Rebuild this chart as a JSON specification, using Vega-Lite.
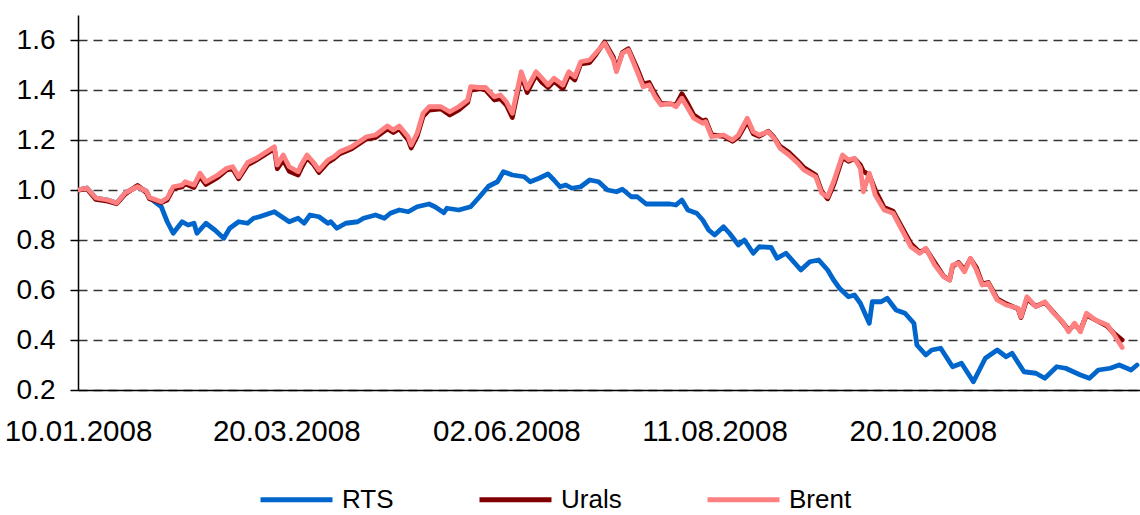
{
"$schema": "https://vega.github.io/schema/vega-lite/v6.json",
"width": 1062, "height": 375,
"autosize": {"type": "none"},
"padding": {"left": 78, "top": 15, "right": 0, "bottom": 125},
"background": "white",
"config": {"view": {"stroke": null}, "font": "Liberation Sans"},
"data": {"values": [
{"d":"2008-01-10","RTS":1.0},{"d":"2008-01-13","RTS":1.008},{"d":"2008-01-16","RTS":0.968},{"d":"2008-01-20","RTS":0.96},{"d":"2008-01-23","RTS":0.948},{"d":"2008-01-26","RTS":0.99},{"d":"2008-01-30","RTS":1.013},{"d":"2008-02-02","RTS":0.995},{"d":"2008-02-03","RTS":0.97},{"d":"2008-02-07","RTS":0.933},{"d":"2008-02-09","RTS":0.873},{"d":"2008-02-11","RTS":0.827},{"d":"2008-02-14","RTS":0.873},{"d":"2008-02-16","RTS":0.86},{"d":"2008-02-18","RTS":0.867},{"d":"2008-02-19","RTS":0.827},{"d":"2008-02-22","RTS":0.867},{"d":"2008-02-25","RTS":0.84},{"d":"2008-02-28","RTS":0.807},{"d":"2008-03-01","RTS":0.847},{"d":"2008-03-04","RTS":0.873},{"d":"2008-03-07","RTS":0.867},{"d":"2008-03-09","RTS":0.887},{"d":"2008-03-11","RTS":0.893},{"d":"2008-03-16","RTS":0.913},{"d":"2008-03-21","RTS":0.873},{"d":"2008-03-24","RTS":0.887},{"d":"2008-03-26","RTS":0.867},{"d":"2008-03-28","RTS":0.9},{"d":"2008-03-31","RTS":0.893},{"d":"2008-04-03","RTS":0.867},{"d":"2008-04-04","RTS":0.873},{"d":"2008-04-06","RTS":0.847},{"d":"2008-04-09","RTS":0.867},{"d":"2008-04-13","RTS":0.873},{"d":"2008-04-15","RTS":0.887},{"d":"2008-04-19","RTS":0.9},{"d":"2008-04-22","RTS":0.887},{"d":"2008-04-24","RTS":0.907},{"d":"2008-04-27","RTS":0.92},{"d":"2008-04-30","RTS":0.913},{"d":"2008-05-03","RTS":0.933},{"d":"2008-05-07","RTS":0.944},{"d":"2008-05-09","RTS":0.933},{"d":"2008-05-12","RTS":0.909},{"d":"2008-05-13","RTS":0.927},{"d":"2008-05-17","RTS":0.92},{"d":"2008-05-21","RTS":0.933},{"d":"2008-05-24","RTS":0.973},{"d":"2008-05-27","RTS":1.015},{"d":"2008-05-30","RTS":1.033},{"d":"2008-06-01","RTS":1.073},{"d":"2008-06-04","RTS":1.06},{"d":"2008-06-08","RTS":1.053},{"d":"2008-06-10","RTS":1.033},{"d":"2008-06-13","RTS":1.047},{"d":"2008-06-16","RTS":1.064},{"d":"2008-06-18","RTS":1.04},{"d":"2008-06-20","RTS":1.013},{"d":"2008-06-22","RTS":1.02},{"d":"2008-06-24","RTS":1.007},{"d":"2008-06-27","RTS":1.013},{"d":"2008-06-30","RTS":1.04},{"d":"2008-07-03","RTS":1.033},{"d":"2008-07-06","RTS":1.0},{"d":"2008-07-09","RTS":0.993},{"d":"2008-07-11","RTS":1.003},{"d":"2008-07-14","RTS":0.973},{"d":"2008-07-16","RTS":0.973},{"d":"2008-07-19","RTS":0.944},{"d":"2008-07-24","RTS":0.944},{"d":"2008-07-27","RTS":0.944},{"d":"2008-07-29","RTS":0.94},{"d":"2008-07-31","RTS":0.96},{"d":"2008-08-02","RTS":0.92},{"d":"2008-08-05","RTS":0.907},{"d":"2008-08-07","RTS":0.88},{"d":"2008-08-09","RTS":0.84},{"d":"2008-08-11","RTS":0.82},{"d":"2008-08-14","RTS":0.853},{"d":"2008-08-16","RTS":0.827},{"d":"2008-08-19","RTS":0.78},{"d":"2008-08-21","RTS":0.8},{"d":"2008-08-24","RTS":0.747},{"d":"2008-08-26","RTS":0.773},{"d":"2008-08-30","RTS":0.77},{"d":"2008-09-01","RTS":0.727},{"d":"2008-09-04","RTS":0.747},{"d":"2008-09-09","RTS":0.68},{"d":"2008-09-12","RTS":0.713},{"d":"2008-09-15","RTS":0.72},{"d":"2008-09-18","RTS":0.68},{"d":"2008-09-20","RTS":0.64},{"d":"2008-09-22","RTS":0.607},{"d":"2008-09-25","RTS":0.573},{"d":"2008-09-27","RTS":0.58},{"d":"2008-09-29","RTS":0.547},{"d":"2008-10-02","RTS":0.467},{"d":"2008-10-03","RTS":0.553},{"d":"2008-10-06","RTS":0.553},{"d":"2008-10-08","RTS":0.567},{"d":"2008-10-11","RTS":0.52},{"d":"2008-10-14","RTS":0.507},{"d":"2008-10-17","RTS":0.467},{"d":"2008-10-18","RTS":0.38},{"d":"2008-10-21","RTS":0.34},{"d":"2008-10-23","RTS":0.36},{"d":"2008-10-26","RTS":0.367},{"d":"2008-10-30","RTS":0.293},{"d":"2008-11-02","RTS":0.307},{"d":"2008-11-06","RTS":0.233},{"d":"2008-11-10","RTS":0.327},{"d":"2008-11-14","RTS":0.36},{"d":"2008-11-17","RTS":0.333},{"d":"2008-11-19","RTS":0.347},{"d":"2008-11-23","RTS":0.273},{"d":"2008-11-27","RTS":0.267},{"d":"2008-11-30","RTS":0.247},{"d":"2008-12-04","RTS":0.293},{"d":"2008-12-07","RTS":0.287},{"d":"2008-12-12","RTS":0.26},{"d":"2008-12-15","RTS":0.247},{"d":"2008-12-18","RTS":0.28},{"d":"2008-12-22","RTS":0.287},{"d":"2008-12-25","RTS":0.3},{"d":"2008-12-29","RTS":0.28},{"d":"2008-12-31","RTS":0.3},
{"d":"2008-01-10","Urals":1.0,"Brent":1.0},{"d":"2008-01-13","Urals":1.005,"Brent":1.008},{"d":"2008-01-16","Urals":0.962,"Brent":0.968},{"d":"2008-01-20","Urals":0.955,"Brent":0.96},{"d":"2008-01-23","Urals":0.945,"Brent":0.948},{"d":"2008-01-26","Urals":0.985,"Brent":0.99},{"d":"2008-01-30","Urals":1.018,"Brent":1.013},{"d":"2008-02-02","Urals":0.99,"Brent":0.995},{"d":"2008-02-03","Urals":0.965,"Brent":0.97},{"d":"2008-02-07","Urals":0.95,"Brent":0.953},{"d":"2008-02-09","Urals":0.96,"Brent":0.968},{"d":"2008-02-11","Urals":1.005,"Brent":1.013},{"d":"2008-02-14","Urals":1.012,"Brent":1.02},{"d":"2008-02-15","Urals":1.025,"Brent":1.033},{"d":"2008-02-18","Urals":1.01,"Brent":1.02},{"d":"2008-02-20","Urals":1.055,"Brent":1.067},{"d":"2008-02-22","Urals":1.022,"Brent":1.033},{"d":"2008-02-26","Urals":1.05,"Brent":1.06},{"d":"2008-02-29","Urals":1.08,"Brent":1.087},{"d":"2008-03-02","Urals":1.085,"Brent":1.093},{"d":"2008-03-04","Urals":1.045,"Brent":1.053},{"d":"2008-03-07","Urals":1.1,"Brent":1.11},{"d":"2008-03-10","Urals":1.12,"Brent":1.127},{"d":"2008-03-16","Urals":1.165,"Brent":1.173},{"d":"2008-03-17","Urals":1.085,"Brent":1.1},{"d":"2008-03-19","Urals":1.12,"Brent":1.14},{"d":"2008-03-21","Urals":1.075,"Brent":1.093},{"d":"2008-03-24","Urals":1.06,"Brent":1.073},{"d":"2008-03-25","Urals":1.085,"Brent":1.1},{"d":"2008-03-27","Urals":1.13,"Brent":1.14},{"d":"2008-03-29","Urals":1.105,"Brent":1.113},{"d":"2008-03-31","Urals":1.07,"Brent":1.08},{"d":"2008-04-03","Urals":1.11,"Brent":1.12},{"d":"2008-04-05","Urals":1.125,"Brent":1.133},{"d":"2008-04-07","Urals":1.145,"Brent":1.153},{"d":"2008-04-11","Urals":1.165,"Brent":1.173},{"d":"2008-04-16","Urals":1.205,"Brent":1.213},{"d":"2008-04-19","Urals":1.21,"Brent":1.22},{"d":"2008-04-23","Urals":1.245,"Brent":1.256},{"d":"2008-04-25","Urals":1.23,"Brent":1.24},{"d":"2008-04-27","Urals":1.245,"Brent":1.256},{"d":"2008-04-30","Urals":1.2,"Brent":1.213},{"d":"2008-05-01","Urals":1.168,"Brent":1.18},{"d":"2008-05-03","Urals":1.215,"Brent":1.227},{"d":"2008-05-05","Urals":1.295,"Brent":1.307},{"d":"2008-05-07","Urals":1.32,"Brent":1.333},{"d":"2008-05-11","Urals":1.325,"Brent":1.333},{"d":"2008-05-14","Urals":1.3,"Brent":1.313},{"d":"2008-05-17","Urals":1.32,"Brent":1.333},{"d":"2008-05-20","Urals":1.35,"Brent":1.36},{"d":"2008-05-21","Urals":1.4,"Brent":1.413},{"d":"2008-05-24","Urals":1.405,"Brent":1.41},{"d":"2008-05-26","Urals":1.4,"Brent":1.41},{"d":"2008-05-29","Urals":1.36,"Brent":1.373},{"d":"2008-05-31","Urals":1.365,"Brent":1.38},{"d":"2008-06-02","Urals":1.34,"Brent":1.353},{"d":"2008-06-04","Urals":1.29,"Brent":1.307},{"d":"2008-06-07","Urals":1.46,"Brent":1.473},{"d":"2008-06-09","Urals":1.39,"Brent":1.407},{"d":"2008-06-12","Urals":1.46,"Brent":1.473},{"d":"2008-06-14","Urals":1.43,"Brent":1.447},{"d":"2008-06-16","Urals":1.41,"Brent":1.42},{"d":"2008-06-18","Urals":1.435,"Brent":1.447},{"d":"2008-06-21","Urals":1.405,"Brent":1.42},{"d":"2008-06-23","Urals":1.46,"Brent":1.473},{"d":"2008-06-25","Urals":1.44,"Brent":1.453},{"d":"2008-06-27","Urals":1.505,"Brent":1.513},{"d":"2008-06-30","Urals":1.51,"Brent":1.52},{"d":"2008-07-02","Urals":1.54,"Brent":1.547},{"d":"2008-07-05","Urals":1.592,"Brent":1.587},{"d":"2008-07-08","Urals":1.53,"Brent":1.52},{"d":"2008-07-09","Urals":1.48,"Brent":1.473},{"d":"2008-07-11","Urals":1.55,"Brent":1.547},{"d":"2008-07-13","Urals":1.565,"Brent":1.56},{"d":"2008-07-16","Urals":1.485,"Brent":1.473},{"d":"2008-07-18","Urals":1.425,"Brent":1.413},{"d":"2008-07-20","Urals":1.43,"Brent":1.42},{"d":"2008-07-22","Urals":1.385,"Brent":1.373},{"d":"2008-07-24","Urals":1.345,"Brent":1.34},{"d":"2008-07-27","Urals":1.345,"Brent":1.347},{"d":"2008-07-29","Urals":1.34,"Brent":1.333},{"d":"2008-07-31","Urals":1.385,"Brent":1.367},{"d":"2008-08-02","Urals":1.345,"Brent":1.327},{"d":"2008-08-04","Urals":1.3,"Brent":1.287},{"d":"2008-08-07","Urals":1.275,"Brent":1.267},{"d":"2008-08-08","Urals":1.28,"Brent":1.273},{"d":"2008-08-10","Urals":1.22,"Brent":1.213},{"d":"2008-08-14","Urals":1.215,"Brent":1.22},{"d":"2008-08-17","Urals":1.195,"Brent":1.2},{"d":"2008-08-19","Urals":1.212,"Brent":1.22},{"d":"2008-08-22","Urals":1.275,"Brent":1.287},{"d":"2008-08-24","Urals":1.225,"Brent":1.233},{"d":"2008-08-26","Urals":1.215,"Brent":1.22},{"d":"2008-08-29","Urals":1.235,"Brent":1.233},{"d":"2008-08-31","Urals":1.21,"Brent":1.207},{"d":"2008-09-02","Urals":1.175,"Brent":1.167},{"d":"2008-09-05","Urals":1.15,"Brent":1.14},{"d":"2008-09-08","Urals":1.115,"Brent":1.107},{"d":"2008-09-10","Urals":1.09,"Brent":1.08},{"d":"2008-09-14","Urals":1.06,"Brent":1.053},{"d":"2008-09-16","Urals":0.995,"Brent":0.987},{"d":"2008-09-18","Urals":0.965,"Brent":0.973},{"d":"2008-09-20","Urals":1.02,"Brent":1.033},{"d":"2008-09-23","Urals":1.13,"Brent":1.14},{"d":"2008-09-25","Urals":1.115,"Brent":1.12},{"d":"2008-09-27","Urals":1.125,"Brent":1.127},{"d":"2008-09-29","Urals":1.1,"Brent":1.087},{"d":"2008-09-30","Urals":1.075,"Brent":0.993},{"d":"2008-10-02","Urals":1.06,"Brent":1.067},{"d":"2008-10-04","Urals":1.0,"Brent":0.98},{"d":"2008-10-07","Urals":0.93,"Brent":0.92},{"d":"2008-10-10","Urals":0.915,"Brent":0.907},{"d":"2008-10-13","Urals":0.85,"Brent":0.84},{"d":"2008-10-16","Urals":0.785,"Brent":0.773},{"d":"2008-10-19","Urals":0.75,"Brent":0.747},{"d":"2008-10-21","Urals":0.765,"Brent":0.767},{"d":"2008-10-24","Urals":0.71,"Brent":0.7},{"d":"2008-10-27","Urals":0.655,"Brent":0.653},{"d":"2008-10-29","Urals":0.64,"Brent":0.64},{"d":"2008-10-30","Urals":0.695,"Brent":0.7},{"d":"2008-11-01","Urals":0.71,"Brent":0.707},{"d":"2008-11-03","Urals":0.68,"Brent":0.673},{"d":"2008-11-05","Urals":0.725,"Brent":0.727},{"d":"2008-11-07","Urals":0.69,"Brent":0.68},{"d":"2008-11-09","Urals":0.625,"Brent":0.62},{"d":"2008-11-11","Urals":0.63,"Brent":0.627},{"d":"2008-11-14","Urals":0.565,"Brent":0.56},{"d":"2008-11-17","Urals":0.545,"Brent":0.54},{"d":"2008-11-21","Urals":0.525,"Brent":0.527},{"d":"2008-11-22","Urals":0.49,"Brent":0.493},{"d":"2008-11-24","Urals":0.565,"Brent":0.573},{"d":"2008-11-27","Urals":0.535,"Brent":0.533},{"d":"2008-11-30","Urals":0.55,"Brent":0.553},{"d":"2008-12-03","Urals":0.51,"Brent":0.507},{"d":"2008-12-06","Urals":0.47,"Brent":0.473},{"d":"2008-12-08","Urals":0.44,"Brent":0.433},{"d":"2008-12-10","Urals":0.46,"Brent":0.467},{"d":"2008-12-12","Urals":0.44,"Brent":0.433},{"d":"2008-12-14","Urals":0.5,"Brent":0.507},{"d":"2008-12-17","Urals":0.48,"Brent":0.48},{"d":"2008-12-21","Urals":0.455,"Brent":0.46},{"d":"2008-12-23","Urals":0.43,"Brent":0.427},{"d":"2008-12-26","Urals":0.4,"Brent":0.37}
]},
"transform": [
  {"fold": ["RTS", "Urals", "Brent"], "as": ["series", "v"]},
  {"filter": "isValid(datum.v)"}
],
"mark": {"type": "line", "strokeWidth": 4.8, "strokeJoin": "round", "strokeCap": "round", "clip": true},
"encoding": {
  "x": {"field": "d", "type": "temporal",
    "scale": {"type": "utc", "domain": [{"year": 2008, "month": 1, "date": 10, "utc": true}, {"year": 2009, "month": 1, "date": 1, "utc": true}]},
    "axis": {"title": null, "values": [{"year": 2008, "month": 1, "date": 10, "utc": true}, {"year": 2008, "month": 3, "date": 20, "utc": true}, {"year": 2008, "month": 6, "date": 2, "utc": true}, {"year": 2008, "month": 8, "date": 11, "utc": true}, {"year": 2008, "month": 10, "date": 20, "utc": true}],
      "format": "%d.%m.%Y", "labelFontSize": 29.5, "labelColor": "#000", "ticks": false, "tickSize": 0, "labelPadding": 27,
      "domainColor": "#000", "domainWidth": 1.5, "grid": false, "labelFlush": false, "labelOverlap": false}},
  "y": {"field": "v", "type": "quantitative",
    "scale": {"domain": [0.2, 1.7], "nice": false, "zero": false},
    "axis": {"title": null, "values": [0.2, 0.4, 0.6, 0.8, 1.0, 1.2, 1.4, 1.6], "format": ".1f",
      "labelFontSize": 28, "labelColor": "#000", "tickSize": 8, "tickColor": "#000", "tickWidth": 1.5, "labelPadding": 15,
      "domainColor": "#000", "domainWidth": 1.5, "grid": true, "gridColor": "#333", "gridDash": [9, 6], "gridWidth": 1.3}},
  "color": {"field": "series", "type": "nominal",
    "scale": {"domain": ["RTS", "Urals", "Brent"], "range": ["#0066CC", "#800000", "#FF8080"]},
    "legend": {"title": null, "orient": "none", "legendX": 180, "legendY": 446, "direction": "horizontal",
      "padding": 0, "symbolType": "stroke", "symbolSize": 5184, "symbolStrokeWidth": 5,
      "labelFontSize": 26, "labelColor": "#000", "labelOffset": 7, "columnPadding": 75}}
}
}
